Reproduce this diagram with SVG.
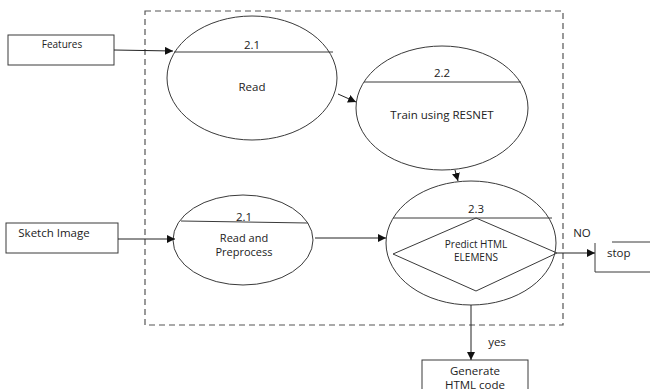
<svg xmlns="http://www.w3.org/2000/svg" width="650" height="389" viewBox="0 0 650 389">
<defs>
<style>
.s{fill:none;stroke:#3a3a3a;stroke-width:1}
.f{fill:#fff;stroke:#3a3a3a;stroke-width:1}
.t{font-family:"Open Sans","Liberation Sans",sans-serif;font-size:11.5px;fill:#222;text-anchor:middle}
.c{stroke:#222;stroke-width:1;fill:none;marker-end:url(#a)}
</style>
<marker id="a" viewBox="0 0 10 10" refX="10" refY="5" markerWidth="8" markerHeight="8" markerUnits="userSpaceOnUse" orient="auto">
<path d="M0,0L10,5L0,10z" fill="#111"/>
</marker>
</defs>
<rect width="650" height="389" fill="#fff"/>
<rect x="145" y="11" width="418" height="314" fill="none" stroke="#555" stroke-width="1.2" stroke-dasharray="6,4"/>
<g id="features">
<rect class="f" x="8" y="35" width="106" height="30"/>
<text class="t" x="62" y="48" style="font-size:10px">Features</text>
</g>
<g id="sketch">
<rect class="f" x="6" y="223" width="112" height="30"/>
<text class="t" x="54" y="237" style="font-size:11.5px">Sketch Image</text>
</g>
<g id="read">
<ellipse class="s" cx="252" cy="78" rx="85" ry="62"/>
<line class="s" x1="174" y1="52" x2="333" y2="52"/>
<text class="t" x="252" y="49">2.1</text>
<text class="t" x="252" y="91">Read</text>
</g>
<g id="train">
<ellipse class="s" cx="442" cy="108" rx="86" ry="62"/>
<line class="s" x1="364" y1="82" x2="521" y2="82"/>
<text class="t" x="442" y="77">2.2</text>
<text class="t" x="442" y="119">Train using RESNET</text>
</g>
<g id="preprocess">
<ellipse class="s" cx="243" cy="240" rx="70" ry="45"/>
<line class="s" x1="181" y1="221" x2="308" y2="223"/>
<text class="t" x="244" y="221">2.1</text>
<text class="t" x="244" y="242" style="font-size:11px">Read and</text>
<text class="t" x="244" y="256" style="font-size:11px">Preprocess</text>
</g>
<g id="predict">
<ellipse class="s" cx="471" cy="243" rx="85" ry="62"/>
<line class="s" x1="393" y1="218" x2="552" y2="218"/>
<polygon class="s" points="476,218 557,253 476,291 393,254"/>
<text class="t" x="476" y="213">2.3</text>
<text class="t" x="476" y="248" style="font-size:10px">Predict HTML</text>
<text class="t" x="476" y="261" style="font-size:10px">ELEMENS</text>
</g>
<g id="stop">
<polyline class="s" points="650,272 595,272 595,243"/>
<line class="s" x1="612" y1="242" x2="650" y2="242"/>
<text class="t" x="607" y="257" style="text-anchor:start">stop</text>
</g>
<g id="generate">
<rect class="f" x="422" y="360" width="106" height="40"/>
<text class="t" x="475" y="375">Generate</text>
<text class="t" x="475" y="389">HTML code</text>
</g>
<g id="connectors">
<line class="c" x1="114" y1="50" x2="173" y2="51"/>
<line class="c" x1="338" y1="94" x2="356" y2="102"/>
<line class="c" x1="455" y1="170" x2="458" y2="181"/>
<line class="c" x1="118" y1="239" x2="175" y2="239"/>
<line class="c" x1="315" y1="238" x2="386" y2="238"/>
<line class="c" x1="557" y1="253" x2="595" y2="253"/>
<line class="c" x1="471" y1="305" x2="471" y2="360"/>
<text class="t" x="582" y="237">NO</text>
<text class="t" x="497" y="346">yes</text>
</g>
</svg>
